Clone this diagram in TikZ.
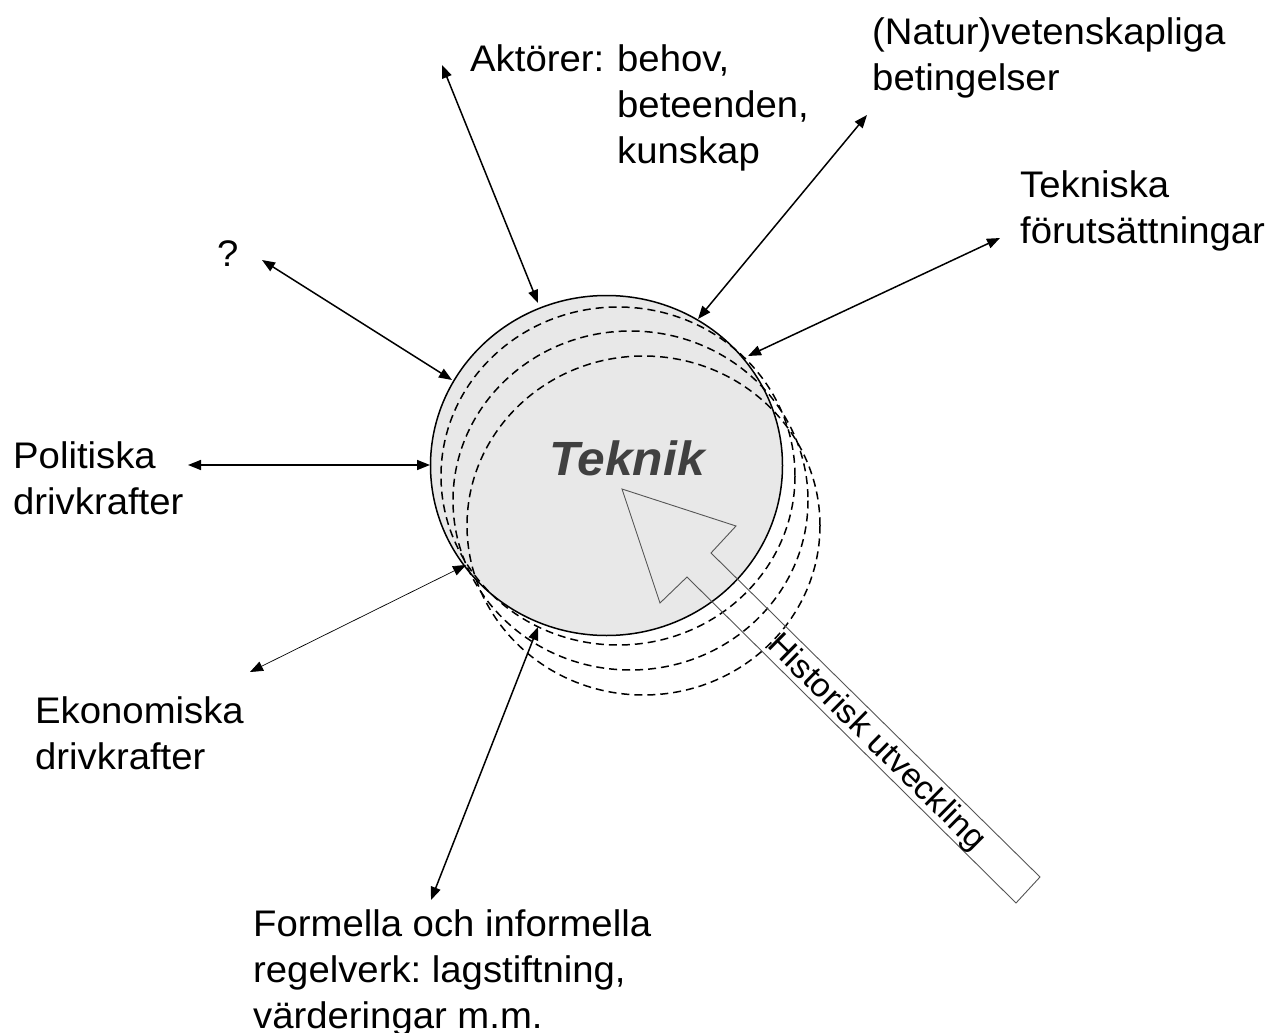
\documentclass[tikz,border=0pt]{standalone}
\usepackage{fontspec}
\setmainfont[FakeStretch=1.035]{Liberation Sans}
\usetikzlibrary{arrows.meta}
\definecolor{fillgray}{HTML}{E8E8E8}
\definecolor{tekgray}{HTML}{404040}
\definecolor{arrgray}{HTML}{555555}
\newcommand\lbllines[1]{\begin{tabular}[t]{@{}l@{}}#1\end{tabular}}
\frenchspacing
\begin{document}
\begin{tikzpicture}[x=1pt,y=-1pt,
  lab/.style={font=\fontsize{37}{46}\selectfont, inner sep=0pt, anchor=base west},
  link/.style={line width=1.5pt, {Triangle[length=13pt,width=10pt]}-{Triangle[length=13pt,width=10pt]}},
  thinlink/.style={link, line width=0.7pt},
  ring/.style={line width=1.5pt},
  dashring/.style={line width=1.5pt, dash pattern=on 8pt off 5pt},
  bigarrow/.style={draw=arrgray, line width=0.9pt},
]
\useasboundingbox (0,0) rectangle (1270,1033);

% central body
\path[fill=fillgray] (606.5,465.5) ellipse [x radius=176, y radius=170];
\draw[dashring] (618,476) ellipse [x radius=177, y radius=169];
\draw[dashring] (630.5,500.5) ellipse [x radius=177.5, y radius=169.5];
\draw[dashring] (643.5,525.5) ellipse [x radius=176.5, y radius=169.5];
\draw[ring] (606.5,465.5) ellipse [x radius=176, y radius=170];

% historical development arrow
\draw[bigarrow] (622,489) -- (736,526) -- (711,553) -- (1040,877) -- (1016,903) -- (687,577) -- (660,603) -- cycle;
\node[font=\fontsize{33}{40}\selectfont, rotate=-44.65, inner sep=0pt] (hist) at (876,743) {Historisk utveckling};

\node[font=\fontsize{48}{56}\selectfont\bfseries\itshape, text=tekgray, inner sep=0pt, anchor=base] (teknik) at (627,475) {Teknik};

% labels
\node[lab] (akt) at (470,72) {Aktörer:};
\node[lab] (aktb) at (617,72) {\lbllines{behov,\\beteenden,\\kunskap}};
\node[lab] (nat) at (872,45) {\lbllines{(Natur)vetenskapliga\\betingelser}};
\node[lab] (tek) at (1020,197) {\lbllines{Tekniska\\förutsättningar}};
\node[lab] (q) at (217,266) {?};
\node[lab] (pol) at (13,468) {\lbllines{Politiska\\drivkrafter}};
\node[lab] (eko) at (35,723) {\lbllines{Ekonomiska\\drivkrafter}};
\node[lab] (form) at (253,936) {\lbllines{Formella och informella\\regelverk: lagstiftning,\\värderingar m.m.}};

% connector end points
\coordinate (aktO) at (442,65);   \coordinate (aktI) at (538,303);
\coordinate (natO) at (867,115);  \coordinate (natI) at (698,319);
\coordinate (tekO) at (1000,238); \coordinate (tekI) at (748,356);
\coordinate (qO) at (262,260);    \coordinate (qI) at (452,380);
\coordinate (polO) at (188,465);  \coordinate (polI) at (430,465);
\coordinate (ekoO) at (250,672);  \coordinate (ekoI) at (466,565);
\coordinate (formO) at (431,900); \coordinate (formI) at (538,627);

\draw[link] (aktO) -- (aktI);
\draw[link] (natO) -- (natI);
\draw[link] (tekO) -- (tekI);
\draw[link] (qO) -- (qI);
\draw[link] (polO) -- (polI);
\draw[thinlink] (ekoO) -- (ekoI);
\draw[link] (formO) -- (formI);
\end{tikzpicture}
\end{document}
